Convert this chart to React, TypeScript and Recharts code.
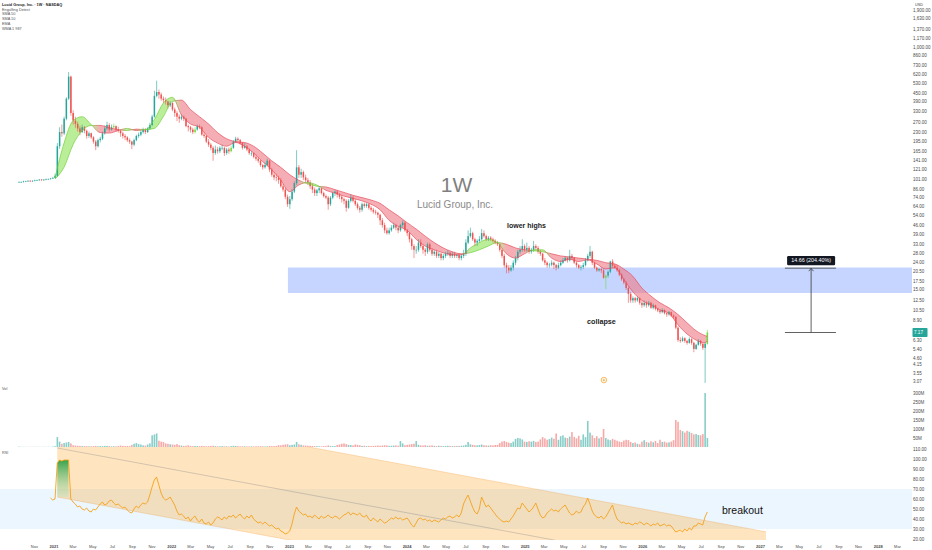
import React from 'react';
import { ComposedChart, Bar, Line, Area, XAxis, YAxis, ReferenceArea, ReferenceLine, ReferenceDot } from 'recharts';

// week index 0 = week of 2021-01-04; first candle is week -16 (2020-09-14)
const FIRST_WEEK = -16;

// weekly candles [open, high, low, close] (USD, split adjusted)
const CANDLES: number[][] = [
  [97,98,96,97],[97,98,96,97],[97,99,96,98],[98,99,97,98],[98,100,97,99],[99,100,97,98],[98,100,97,99],[99,101,98,100],
  [100,101,99,100],[100,102,99,101],[101,102,99,100],[100,102,99,101],[101,103,100,102],[102,103,101,102],[102,104,101,103],[103,106,102,104],
  [104,112,103,108],[108,190,106,180],[180,250,172,230],[230,262,212,225],[225,300,218,290],[290,420,282,410],[410,650,400,600],[600,610,305,320],
  [320,335,262,280],[280,300,248,265],[265,275,232,245],[245,256,218,230],[230,262,226,250],[250,255,225,235],[235,240,205,215],[215,232,208,225],
  [225,228,204,210],[210,214,188,195],[195,200,168,180],[180,205,176,200],[200,212,192,205],[205,232,200,225],[225,258,220,245],[245,275,238,260],
  [260,268,232,240],[240,262,236,250],[250,266,244,255],[255,258,232,240],[240,252,228,235],[235,240,212,225],[225,232,206,215],[215,222,200,210],
  [210,214,194,200],[200,206,188,195],[195,198,171,185],[185,205,180,200],[200,220,196,215],[215,228,208,220],[220,236,214,230],[230,248,224,240],
  [240,246,222,230],[230,250,226,245],[245,270,240,260],[260,310,255,300],[300,470,295,430],[430,560,420,460],[460,480,410,440],[440,455,395,410],
  [410,425,380,400],[400,418,370,390],[390,396,345,365],[365,392,355,380],[380,386,330,340],[340,352,300,320],[320,330,278,300],[300,312,270,290],
  [290,312,282,300],[300,306,278,290],[290,294,250,255],[255,262,232,250],[250,256,228,240],[240,248,222,230],[230,250,224,240],[240,262,236,255],
  [255,262,242,250],[250,254,216,220],[220,230,208,215],[215,218,190,195],[195,204,178,185],[185,190,168,175],[175,180,140,160],[160,182,155,170],
  [170,178,158,165],[165,180,160,175],[175,185,168,175],[175,178,152,160],[160,175,155,170],[170,176,158,165],[165,182,162,175],[175,200,172,195],
  [195,212,190,205],[205,210,192,200],[200,204,185,190],[190,193,170,175],[175,190,172,180],[180,184,165,170],[170,174,155,160],[160,166,152,160],
  [160,162,146,150],[150,156,140,145],[145,150,135,140],[140,142,126,130],[130,133,120,125],[125,136,122,130],[130,145,127,140],[140,142,115,120],
  [120,124,106,110],[110,116,100,105],[105,112,98,104],[104,108,94,100],[100,104,88,90],[90,94,82,85],[85,88,72,75],[75,78,63,66],
  [66,76,61,72],[72,86,70,82],[82,98,80,95],[95,168,92,125],[125,130,104,110],[110,122,104,115],[115,118,100,105],[105,110,95,100],
  [100,104,92,96],[96,100,86,90],[90,94,80,85],[85,88,76,80],[80,86,76,84],[84,90,80,87],[87,88,78,80],[80,82,74,76],
  [76,78,72,74],[74,76,60,66],[66,76,64,74],[74,82,72,80],[80,84,76,82],[82,84,74,78],[78,80,72,75],[75,77,68,72],
  [72,74,66,70],[70,72,58,62],[62,72,61,70],[70,78,68,74],[74,76,68,70],[70,72,64,66],[66,68,60,62],[62,64,57,60],
  [60,68,58,66],[66,68,62,64],[64,68,62,66],[66,67,60,62],[62,64,58,60],[60,62,56,58],[58,60,55,57],[57,58,52,55],
  [55,56,46,50],[50,52,44,46],[46,48,40,42],[42,44,39,40],[40,44,39,42],[42,46,41,44],[44,48,43,46],[46,47,42,44],
  [44,45,40,42],[42,47,41,46],[46,50,44,48],[48,49,41,42],[42,43,38,40],[40,41,34,36],[36,37,30,32],[32,33,26,30],
  [30,32,28,30],[30,36,29,34],[34,36,31,32],[32,33,28,30],[30,31,27,29],[29,34,28,33],[33,34,29,30],[30,31,27,28],
  [28,30,27,29],[29,30,26,27],[27,29,26,28],[28,28.5,25,26],[26,28,25,27],[27,29,26,28],[28,30,27,28.5],[28.5,29,26,27],
  [27,29,26,28],[28,29,26,27],[27,28,26,27.5],[27.5,28,25,26],[26,28,25,27],[27,30,26,28],[28,36,27,34],[34,42,33,38],
  [38,44,37,40],[40,41,35,36],[36,37,32,34],[34,36,32,35],[35,38,34,36],[36,43,35,40],[40,42,37,38],[38,39,35,36],
  [36,38,35,37],[37,38,35,36],[36,37,34,35],[35,36,33,34],[34,35,32,33],[33,33.5,29,30],[30,31,26,27],[27,28,22,23],
  [23,24,20,22],[22,23,20,21],[21,23,20.5,22],[22,25,21,24],[24,27,23,26],[26,30,25,29],[29,32,28,30],[30,36,29,32],
  [32,33,29,30],[30,34,29,31],[31,32,28,29],[29,31,28,30],[30,35,29,32],[32,33,30,31],[31,32,28,29],[29,30,27,28],
  [28,28.5,24.5,25],[25,26,23,24],[24,24.5,22,23],[23,24,22,23.2],[23.2,25,22.5,24],[24,24.5,21.5,23],[23,23.5,21,22],[22,24,21.5,23],
  [23,25,22.5,24],[24,26,23.5,25],[25,27,24.5,26],[26,26.5,24,25],[25,30,24.5,27],[27,28,25,26],[26,26.5,23.5,24],[24,24.5,22,23],
  [23,23.5,21.5,22],[22,23,21,22.3],[22.3,24,21.5,23],[23,26,22.5,25],[25,28,24.5,27],[27,32,26,29],[29,29.5,23,24],[24,24.5,21.5,22],
  [22,22.5,20.5,21],[21,22,20.5,21.5],[21.5,22,20,21],[21,21.5,18.2,18.5],[18.5,19.5,15.2,19.2],[19.2,21,18.5,20.5],[20.5,24.8,20,24.5],[24.5,25.5,22,22.8],
  [22.8,23.5,21.5,22],[22,23,20.5,21],[21,21.5,19,19.5],[19.5,20,17.5,18],[18,18.5,16.5,17],[17,17.5,15,15.5],[15.5,16,12,14],[14,14.5,12,12.5],
  [12.5,13.4,12,13],[13,13.3,12,12.5],[12.5,13.4,12.2,13],[13,13.2,11.6,12],[12,12.4,11,11.5],[11.5,12.5,11.2,12],[12,12.3,11,11.5],[11.5,12.4,11.2,12],
  [12,12.2,10.8,11],[11,11.8,10.7,11.5],[11.5,11.6,10.5,10.8],[10.8,11,10.2,10.5],[10.5,10.7,9.9,10.2],[10.2,10.9,10,10.6],[10.6,10.7,9.8,10],[10,10.2,9.4,9.8],
  [9.8,10.4,9.6,10.2],[10.2,10.3,9.4,9.6],[9.6,9.8,9.1,9.4],[9.4,9.5,7.6,7.8],[7.8,8,6.1,6.3],[6.3,6.6,6,6.2],[6.2,6.7,6.1,6.5],[6.5,6.6,6,6.2],
  [6.2,6.3,5.8,6],[6,6.6,5.9,6.4],[6.4,6.5,5.8,6],[6,6.1,5.1,5.4],[5.4,5.9,5.3,5.8],[5.8,6.4,5.7,6.2],[6.2,6.3,5.7,5.9],[5.9,6,5.3,5.5],
  [5.5,6.1,3.0,5.9],[5.9,7.5,5.8,7.17],
];

// weekly volume, millions
const VOLUME: number[] = [
  2,1,1,1,1,1,1,1,1,1,1,1,1,1,1,2,
  4,55,30,18,22,25,28,20, 10,8,7,6,5,5,5,4, 4,5,6,4,5,5,6,6, 5,4,4,4,5,8,6,5,
  6,5,12,18,22,16,14,9, 8,14,20,65,70,75,35,30, 28,20,18,15,14,12,16,10, 8,6,7,9,6,5,6,5,
  5,6,5,4,5,6,7,5, 4,4,5,4,4,3,5,7, 6,5,4,4,4,3,3,4, 3,4,4,5,4,3,4,6,
  5,5,6,10,9,12,14,15, 10,12,14,28,15,12,9,8, 7,6,6,5,5,4,4,5, 5,9,6,5,5,11,14,18,
  20,16,12,11,9,14,12,10, 6,7,5,6,5,6,7,8, 7,8,10,9,6,7,8,9, 7,33,20,10,12,14,16,18,
  33,12,9,8,10,7,8,9, 6,5,7,6,5,6,7,6, 5,6,5,6,7,8,12,28, 15,12,10,9,11,14,10,9,
  8,10,9,11,12,22,30,33, 28,24,22,30,45,50,48,42, 30,28,32,30,34,28,30,42, 55,48,40,44,52,46,75,40,
  60,65,52,50,58,83,56,48, 62,40,70,55,145,80,65,50, 60,48,55,100,50,42,38,45, 40,35,30,28,36,40,38,28,
  22,25,18,15,30,38,28,24, 32,26,34,22,40,28,30,24, 26,30,38,150,140,95,88,80, 90,85,78,70,72,67,65,72,
  300,50,
];

// weekly RSI(14)
const RSI: (number | null)[] = [
  null,null,null,null,null,null,null,null,null,null,null,null,null,null,61,59,
  60,96,99,98,99,99,99,60,57,55, 52,53,50,49,51,48,47,50,49,52, 55,57,54,55,58,59,56,54,55,53, 51,52,49,47,46,50,53,51,54,56,
  55,57,64,72,79,82,74,66,61,59, 60,62,58,54,48,44,45,43,40,42, 38,41,43,39,37,40,36,35,37,34, 36,40,42,41,39,42,40,43,42,44,
  41,43,45,42,40,43,41,44,40,38, 36,37,35,37,35,33,34,32,30,31, 28,27,25,26,28,35,45,52,48,46, 44,45,42,43,41,44,42,40,43,41,
  42,44,42,41,43,42,40,42,44,45, 47,44,46,45,44,46,43,42,44,40, 38,41,39,37,40,38,36,37,39,41, 40,42,40,41,39,40,41,38,34,32,
  36,40,41,39,40,38,39,37,39,38, 37,39,41,40,42,43,41,42,44,42, 46,55,60,64,58,52,47,45,50,62, 57,52,54,51,48,45,42,40,38,37,
  38,37,40,43,47,51,50,56,53,50, 47,49,52,56,50,44,41,42,46,48, 50,48,49,47,50,52,54,50,46,44, 45,48,46,47,52,55,61,55,48,44,
  42,41,43,40,42,46,50,54,46,40, 38,36,37,35,36,35,34,36,35,37, 36,34,36,35,33,35,34,36,33,34, 35,33,34,33,30,27,28,29,27,30,
  28,31,29,33,33,36,35,34,42,47,
];

// RSI overbought fill (weeks 1..6): [base, rsi]
const OB_FIRST_WEEK = 1;
const RSI_OB_FILL: number[][] = [[62,96],[62,99],[62,98],[62,99],[62,99],[62,99]];

// moving-average ribbon, read every 4 weeks from week 0, plus the last week
const RIBBON_WEEKS: number[] = Array.from({ length: 73 }, (_, i) => i * 4).concat([289]);
const RIBBON_FAST: number[] = [
  104,190,280,300,262,228,226,236,245,236,240,285,380,420,310,265,250,210,190,180,192,180,160,138,120,100,82,92,96,92,84,80,
  76,73,70,66,60,50,45,42,36,32,30,28.5,27.5,27.5,31,34,36,34,28,26,28,30,30,26,24.5,25.5,24.5,25.2,23.5,21.5,22,18,14.5,12.5,
  11.6,10.6,10,8.2,7,6.3,6.0,6.2,
];
const RIBBON_SLOW: number[] = [
  102,125,185,235,258,258,248,240,236,242,240,245,300,390,400,340,300,265,228,205,195,192,180,160,140,125,110,100,94,90,89,85,
  81,77,74,71,67,60,54,48,43,38,34,31,29,28,28.5,30,32,34,33,31,30,29.5,29,28,27,26.5,26,25.5,25,24,23.5,21.5,19,15.5,
  13.5,12,11,9.8,8.5,7.4,6.8,6.7,
];

const LIME_WEEKS: number[] = [26, 62, 78, 244, 289];

// drawings (data units: week index, price / RSI)
const ZONE = { fromWeek: 103.2, low: 14.2, high: 22.08 };
const MEASURE = { from: 7.1722, to: 21.8322, week: 335, leftWeek: 323.4, rightWeek: 346, labelAt: 24.9 };
const EARNINGS = { week: 243.2, price: 3.15 };
const CHANNEL_WEEKS = [1, 315];
const CHANNEL_UPPER = [158.7, 27.2];
const CHANNEL_MID = [111, -20.3];
const CHANNEL_LOWER = [62, -69.3];

// axes
const PRICE_TICKS = [1900,1630,1370,1170,1000,860,730,620,530,450,390,330,270,230,195,165,141,121,101,86,74,64,54,46,39,33,28,24,20.5,17.5,15,12.5,10.5,8.9,6.3,5.4,4.6,4.15,3.55,3.07];
const VOLUME_TICKS = [50,100,150,200,250,300];
const RSI_TICKS = [20,30,40,50,60,70,80,90,100,110];
const TICK_DATES = [
  '2020-11-01',
  '2021-01-01','2021-03-01','2021-05-01','2021-07-01','2021-09-01','2021-11-01',
  '2022-01-01','2022-03-01','2022-05-01','2022-07-01','2022-09-01','2022-11-01',
  '2023-01-01','2023-03-01','2023-05-01','2023-07-01','2023-09-01','2023-11-01',
  '2024-01-01','2024-03-01','2024-05-01','2024-07-01','2024-09-01','2024-11-01',
  '2025-01-01','2025-03-01','2025-05-01','2025-07-01','2025-09-01','2025-11-01',
  '2026-01-01','2026-03-01','2026-05-01','2026-07-01','2026-09-01','2026-11-01',
  '2027-01-01','2027-03-01','2027-05-01','2027-07-01','2027-09-01','2027-11-01',
  '2028-01-01','2028-03-01',
];
const TICK_LABELS = [
  'Nov',
  '2021','Mar','May','Jul','Sep','Nov',
  '2022','Mar','May','Jul','Sep','Nov',
  '2023','Mar','May','Jul','Sep','Nov',
  '2024','Mar','May','Jul','Sep','Nov',
  '2025','Mar','May','Jul','Sep','Nov',
  '2026','Mar','May','Jul','Sep','Nov',
  '2027','Mar','May','Jul','Sep','Nov',
  '2028','Mar',
];

// ---------- layout ----------
const FONT = "'Liberation Sans', Arial, Helvetica, sans-serif";
const W = 932;
const AXIS_W = 20;
const X_MIN = -24.37;
const X_MAX = 379.7;
const PRICE_H = 386;
const ANCHOR_PRICE = 64, ANCHOR_Y = 206, PX_PER_LN = 57.8;
const P_MAX = ANCHOR_PRICE * Math.exp(ANCHOR_Y / PX_PER_LN);
const P_MIN = ANCHOR_PRICE * Math.exp(-(PRICE_H - ANCHOR_Y) / PX_PER_LN);
const VOL_TOP = 386, VOL_H = 61, VOL_MAX = 339;
const RSI_TOP = 447, RSI_H = 103, RSI_MIN = 19, RSI_MAX = 112;

const UP = '#26a69a', DOWN = '#ef5350', LIME = '#6fdc3c';
const VOL_UP = 'rgba(38,166,154,0.55)', VOL_DOWN = 'rgba(239,83,80,0.5)';
const RIB_GREEN = '#8fe35a', RIB_RED = '#f07c88';
const RIB_GREEN_LINE = '#6fcf3a', RIB_RED_LINE = '#e5495a';
const AXIS_TEXT = '#4a4a4a';

const weekOf = (iso: string) => {
  const [y, m, d] = iso.split('-').map(Number);
  return (Date.UTC(y, m - 1, d) - Date.UTC(2021, 0, 4)) / (7 * 864e5);
};
const TICK_WEEKS = TICK_DATES.map(weekOf);

const rows = CANDLES.map((cd, i) => {
  const w = FIRST_WEEK + i;
  const [o, h, l, c] = cd;
  const ri = RIBBON_WEEKS.indexOf(w);
  const obi = w - OB_FIRST_WEEK;
  return {
    w, o, h, l, c,
    range: [l, h] as [number, number],
    vol: VOLUME[i] ?? 0,
    lime: LIME_WEEKS.includes(w),
    rsi: RSI[i] ?? null,
    ob: obi >= 0 && obi < RSI_OB_FILL.length ? RSI_OB_FILL[obi] : null,
    ribF: ri >= 0 ? RIBBON_FAST[ri] : null,
    ribS: ri >= 0 ? RIBBON_SLOW[ri] : null,
    rib: ri >= 0 ? [RIBBON_SLOW[ri], RIBBON_FAST[ri]] : null,
  };
});

const rsiRows: any[] = rows
  .map((r) => (r.w === CHANNEL_WEEKS[0]
    ? { ...r, ch: [CHANNEL_LOWER[0], CHANNEL_UPPER[0]], chM: CHANNEL_MID[0] }
    : { ...r, ch: null, chM: null }))
  .concat([{ w: CHANNEL_WEEKS[1], ch: [CHANNEL_LOWER[1], CHANNEL_UPPER[1]], chM: CHANNEL_MID[1] } as any]);

const lastClose = CANDLES[CANDLES.length - 1][3];

const ribFirst = RIBBON_WEEKS[0], ribLast = RIBBON_WEEKS[RIBBON_WEEKS.length - 1];
const ribStops = RIBBON_WEEKS.map((w, i) => ({
  off: (w - ribFirst) / (ribLast - ribFirst),
  green: RIBBON_FAST[i] >= RIBBON_SLOW[i],
}));

const Candle = (p: any) => {
  const { x, y, width, height, payload } = p;
  if (!payload || payload.h == null || !isFinite(x) || !isFinite(y)) return <g />;
  const cx = x + width / 2;
  const top = Math.min(y, y + height), bot = Math.max(y, y + height);
  const lh = Math.log(payload.h), ll = Math.log(payload.l);
  const span = lh - ll || 1;
  const yOf = (v: number) => top + ((bot - top) * (lh - Math.log(v))) / span;
  const yo = yOf(payload.o), yc = yOf(payload.c);
  const color = payload.lime ? LIME : payload.c >= payload.o ? UP : DOWN;
  const bt = Math.min(yo, yc);
  const bh = Math.max(0.6, Math.abs(yc - yo));
  return (
    <g>
      <line x1={cx} x2={cx} y1={top} y2={bot} stroke={color} strokeWidth={0.6} />
      <rect x={cx - 0.75} y={bt} width={1.5} height={bh} fill={color} />
    </g>
  );
};

const VolBar = (p: any) => {
  const { x, y, width, height, payload } = p;
  if (!payload || !(height > 0) || !isFinite(x)) return <g />;
  const cx = x + width / 2;
  const col = payload.c >= payload.o ? VOL_UP : VOL_DOWN;
  return <rect x={cx - 0.8} y={y} width={1.6} height={height} fill={col} />;
};

const XTick = (p: any) => {
  const { x, y, payload } = p;
  const idx = TICK_WEEKS.findIndex((t) => Math.abs(t - payload.value) < 1e-6);
  const label = TICK_LABELS[idx] ?? '';
  const isYear = /^\d{4}$/.test(label);
  return (
    <text x={x} y={y + 8} textAnchor="middle" fontSize={4} fontFamily={FONT} fontWeight={isYear ? 700 : 400} fill={AXIS_TEXT}>
      {label}
    </text>
  );
};

const fmtPrice = (v: number) => v.toLocaleString('en-US', { minimumFractionDigits: 2, maximumFractionDigits: 2 });
const tickStyle = { fontSize: 4.5, fill: AXIS_TEXT, fontFamily: FONT };

export default function App() {
  const diff = MEASURE.to - MEASURE.from;
  const measureLabel = `${diff.toFixed(2)} (${((diff / MEASURE.from) * 100).toFixed(2)}%)`;
  const legend = ['Lucid Group, Inc. · 1W · NASDAQ', 'Engulfing Detect', 'SMA 50', 'SMA 10', 'EMA', 'WMA 1 987'];

  return (
    <div style={{ position: 'fixed', left: 0, top: 0, width: W, height: 550, background: '#ffffff', overflow: 'hidden', fontFamily: FONT }}>
      {/* price pane */}
      <div style={{ position: 'absolute', left: 0, top: 0 }}>
        <ComposedChart width={W} height={PRICE_H} data={rows} margin={{ top: 0, right: 0, bottom: 0, left: 0 }}>
          <defs>
            <linearGradient id="ribFill" x1="0" y1="0" x2="1" y2="0">
              {ribStops.map((s, i) => (
                <stop key={i} offset={s.off} stopColor={s.green ? RIB_GREEN : RIB_RED} />
              ))}
            </linearGradient>
            <linearGradient id="ribLine" x1="0" y1="0" x2="1" y2="0">
              {ribStops.map((s, i) => (
                <stop key={i} offset={s.off} stopColor={s.green ? RIB_GREEN_LINE : RIB_RED_LINE} />
              ))}
            </linearGradient>
          </defs>
          <XAxis dataKey="w" type="number" domain={[X_MIN, X_MAX]} allowDataOverflow hide />
          <YAxis
            orientation="right"
            scale="log"
            type="number"
            domain={[P_MIN, P_MAX]}
            allowDataOverflow
            ticks={PRICE_TICKS}
            interval={0}
            width={AXIS_W}
            axisLine={false}
            tickLine={false}
            tickSize={0}
            tickMargin={1}
            tick={tickStyle}
            tickFormatter={fmtPrice}
          />
          <ReferenceArea x1={ZONE.fromWeek} x2={X_MAX} y1={ZONE.low} y2={ZONE.high} fill="#2962ff" fillOpacity={0.27} stroke="none" ifOverflow="hidden" />
          <Area dataKey="rib" type="monotone" connectNulls fill="url(#ribFill)" fillOpacity={0.62} stroke="none" isAnimationActive={false} dot={false} activeDot={false} />
          <Line dataKey="ribF" type="monotone" connectNulls stroke="url(#ribLine)" strokeWidth={0.8} strokeOpacity={0.85} dot={false} activeDot={false} isAnimationActive={false} />
          <Line dataKey="ribS" type="monotone" connectNulls stroke="url(#ribLine)" strokeWidth={0.8} strokeOpacity={0.85} dot={false} activeDot={false} isAnimationActive={false} />
          <Bar dataKey="range" shape={Candle} isAnimationActive={false} />
          <ReferenceLine segment={[{ x: MEASURE.leftWeek, y: MEASURE.to }, { x: MEASURE.rightWeek, y: MEASURE.to }]} stroke="#3a3a3a" strokeWidth={0.8} ifOverflow="visible" />
          <ReferenceLine segment={[{ x: MEASURE.leftWeek, y: MEASURE.from }, { x: MEASURE.rightWeek, y: MEASURE.from }]} stroke="#3a3a3a" strokeWidth={0.8} ifOverflow="visible" />
          <ReferenceLine segment={[{ x: MEASURE.week, y: MEASURE.from }, { x: MEASURE.week, y: MEASURE.to }]} stroke="#3a3a3a" strokeWidth={0.8} ifOverflow="visible" />
          <ReferenceDot
            x={MEASURE.week}
            y={MEASURE.to}
            r={0}
            ifOverflow="visible"
            shape={(p: any) => (
              <path d={`M${p.cx - 2.4},${p.cy + 3} L${p.cx},${p.cy + 0.3} L${p.cx + 2.4},${p.cy + 3}`} fill="none" stroke="#3a3a3a" strokeWidth={0.8} />
            )}
          />
          <ReferenceDot
            x={MEASURE.week}
            y={MEASURE.labelAt}
            r={0}
            ifOverflow="visible"
            shape={(p: any) => (
              <g>
                <rect x={p.cx - 24} y={p.cy - 4.6} width={48} height={9.2} rx={1.2} fill="#131722" />
                <text x={p.cx} y={p.cy + 1.9} textAnchor="middle" fontSize={5.4} fill="#ffffff" fontFamily={FONT}>
                  {measureLabel}
                </text>
              </g>
            )}
          />
          <ReferenceDot
            x={EARNINGS.week}
            y={EARNINGS.price}
            r={0}
            ifOverflow="visible"
            shape={(p: any) => (
              <g>
                <circle cx={p.cx} cy={p.cy} r={2.8} fill="#fff6e0" stroke="#f0a33a" strokeWidth={0.7} />
                <circle cx={p.cx} cy={p.cy} r={0.9} fill="#f0a33a" />
              </g>
            )}
          />
          <ReferenceDot
            x={X_MAX}
            y={lastClose}
            r={0}
            ifOverflow="visible"
            shape={(p: any) => (
              <g>
                <rect x={p.cx + 0.5} y={p.cy - 4.5} width={15} height={9} rx={0.8} fill={UP} />
                <text x={p.cx + 2} y={p.cy + 1.6} fontSize={4.6} fill="#ffffff" fontFamily={FONT}>
                  {lastClose.toFixed(2)}
                </text>
              </g>
            )}
          />
        </ComposedChart>
      </div>

      {/* volume pane */}
      <div style={{ position: 'absolute', left: 0, top: VOL_TOP }}>
        <ComposedChart width={W} height={VOL_H} data={rows} margin={{ top: 0, right: 0, bottom: 0, left: 0 }}>
          <XAxis dataKey="w" type="number" domain={[X_MIN, X_MAX]} allowDataOverflow hide />
          <YAxis
            orientation="right"
            type="number"
            domain={[0, VOL_MAX]}
            allowDataOverflow
            ticks={VOLUME_TICKS}
            interval={0}
            width={AXIS_W}
            axisLine={false}
            tickLine={false}
            tickSize={0}
            tickMargin={1}
            tick={tickStyle}
            tickFormatter={(v: number) => `${v}M`}
          />
          <Bar dataKey="vol" shape={VolBar} isAnimationActive={false} />
        </ComposedChart>
      </div>

      {/* RSI pane */}
      <div style={{ position: 'absolute', left: 0, top: RSI_TOP }}>
        <ComposedChart width={W} height={RSI_H} data={rsiRows} margin={{ top: 0, right: 0, bottom: 0, left: 0 }}>
          <defs>
            <linearGradient id="obFill" x1="0" y1="0" x2="0" y2="1">
              <stop offset="0" stopColor="#2e9e44" stopOpacity={0.95} />
              <stop offset="1" stopColor="#b9e4b5" stopOpacity={0.35} />
            </linearGradient>
          </defs>
          <XAxis
            dataKey="w"
            type="number"
            domain={[X_MIN, X_MAX]}
            allowDataOverflow
            ticks={TICK_WEEKS}
            interval={0}
            height={10}
            axisLine={false}
            tickLine={false}
            tickSize={0}
            tickMargin={0}
            tick={XTick}
          />
          <YAxis
            orientation="right"
            type="number"
            domain={[RSI_MIN, RSI_MAX]}
            allowDataOverflow
            ticks={RSI_TICKS}
            interval={0}
            width={AXIS_W}
            axisLine={false}
            tickLine={false}
            tickSize={0}
            tickMargin={1}
            tick={tickStyle}
            tickFormatter={(v: number) => v.toFixed(2)}
          />
          <ReferenceArea y1={30} y2={70} fill="#2196f3" fillOpacity={0.09} stroke="none" ifOverflow="hidden" />
          <Area dataKey="ch" type="linear" connectNulls fill="#ff9800" fillOpacity={0.25} stroke="rgba(240,150,50,0.45)" strokeWidth={0.6} isAnimationActive={false} dot={false} activeDot={false} />
          <Line dataKey="chM" type="linear" connectNulls stroke="rgba(120,123,134,0.55)" strokeWidth={0.6} dot={false} activeDot={false} isAnimationActive={false} />
          <Area dataKey="ob" type="linear" fill="url(#obFill)" fillOpacity={1} stroke="none" isAnimationActive={false} dot={false} activeDot={false} />
          <Line dataKey="rsi" type="linear" connectNulls stroke="#f5a11c" strokeWidth={0.9} dot={false} activeDot={false} isAnimationActive={false} />
        </ComposedChart>
      </div>

      {/* text overlay */}
      <svg width={W} height={550} style={{ position: 'absolute', left: 0, top: 0, pointerEvents: 'none' }}>
        {legend.map((t, i) => (
          <text key={t} x={2} y={6 + i * 4.7} fontSize={3.8} fontFamily={FONT} fontWeight={i === 0 ? 700 : 400} fill={i === 0 ? '#222' : '#555'}>
            {t}
          </text>
        ))}
        <text x={915} y={6} fontSize={3.8} fontFamily={FONT} fill="#444">USD</text>
        <text x={456.5} y={192} textAnchor="middle" fontSize={21} fontFamily={FONT} fill="#7f7f7f">1W</text>
        <text x={455} y={207.5} textAnchor="middle" fontSize={10} fontFamily={FONT} fill="#8a8a8a">Lucid Group, Inc.</text>
        <text x={507} y={228} fontSize={7} fontFamily={FONT} fontWeight={600} fill="#222">lower highs</text>
        <text x={587} y={323.5} fontSize={7.2} fontFamily={FONT} fontWeight={600} fill="#222">collapse</text>
        <text x={722} y={514} fontSize={10.5} fontFamily={FONT} fill="#111">breakout</text>
        <text x={2} y={389.5} fontSize={3.8} fontFamily={FONT} fill="#555">Vol</text>
        <text x={2} y={453.5} fontSize={3.8} fontFamily={FONT} fill="#555">RSI</text>
      </svg>
    </div>
  );
}
